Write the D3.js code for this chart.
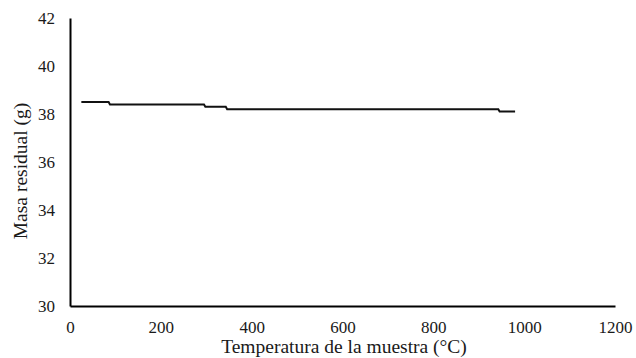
<!DOCTYPE html>
<html><head><meta charset="utf-8">
<script src="https://cdn.jsdelivr.net/npm/d3@7"></script>
<style>body{margin:0;background:#fff;} text{font-family:"Liberation Serif","Times New Roman",serif;fill:#1a1a1a;}</style>
</head><body>
<svg id="c" width="636" height="358"></svg>
<script>
const temperature = [25, 85, 88, 295, 298, 343, 346, 943, 946, 980];
const mass = [38.5, 38.5, 38.4, 38.4, 38.3, 38.3, 38.2, 38.2, 38.1, 38.1];
const xTicks = [0, 200, 400, 600, 800, 1000, 1200];
const yTicks = [30, 32, 34, 36, 38, 40, 42];
const xTitle = "Temperatura de la muestra (°C)";
const yTitle = "Masa residual (g)";

const svg = d3.select("#c");
const m = {l: 70, r: 21, t: 18, b: 52};
const W = 636, H = 358;
const x = d3.scaleLinear().domain([0, 1200]).range([m.l, W - m.r]);
const y = d3.scaleLinear().domain([30, 42]).range([H - m.b, m.t]);

const xa = svg.append("g").attr("transform", `translate(0,${H - m.b})`)
  .call(d3.axisBottom(x).tickValues(xTicks).tickSize(0).tickPadding(15).tickFormat(d3.format("d")));
xa.select(".domain").attr("stroke", "#000").attr("stroke-width", 2);
xa.selectAll("text").attr("font-size", 17).style("font-family", "Liberation Serif");

const ya = svg.append("g").attr("transform", `translate(${m.l},0)`)
  .call(d3.axisLeft(y).tickValues(yTicks).tickSize(0).tickPadding(15).tickFormat(d3.format("d")));
ya.select(".domain").attr("stroke", "#000").attr("stroke-width", 2);
ya.selectAll("text").attr("font-size", 17).style("font-family", "Liberation Serif");

const pts = temperature.map((t, i) => [t, mass[i]]);
svg.append("path").datum(pts)
  .attr("fill", "none").attr("stroke", "#111").attr("stroke-width", 2)
  .attr("d", d3.line().x(d => x(d[0])).y(d => y(d[1])));

svg.append("text").attr("x", 344).attr("y", 353).attr("text-anchor", "middle")
  .attr("font-size", 19.5).text(xTitle);
svg.append("text").attr("transform", `translate(27,171) rotate(-90)`)
  .attr("text-anchor", "middle").attr("font-size", 19.5).text(yTitle);
</script>
</body></html>
